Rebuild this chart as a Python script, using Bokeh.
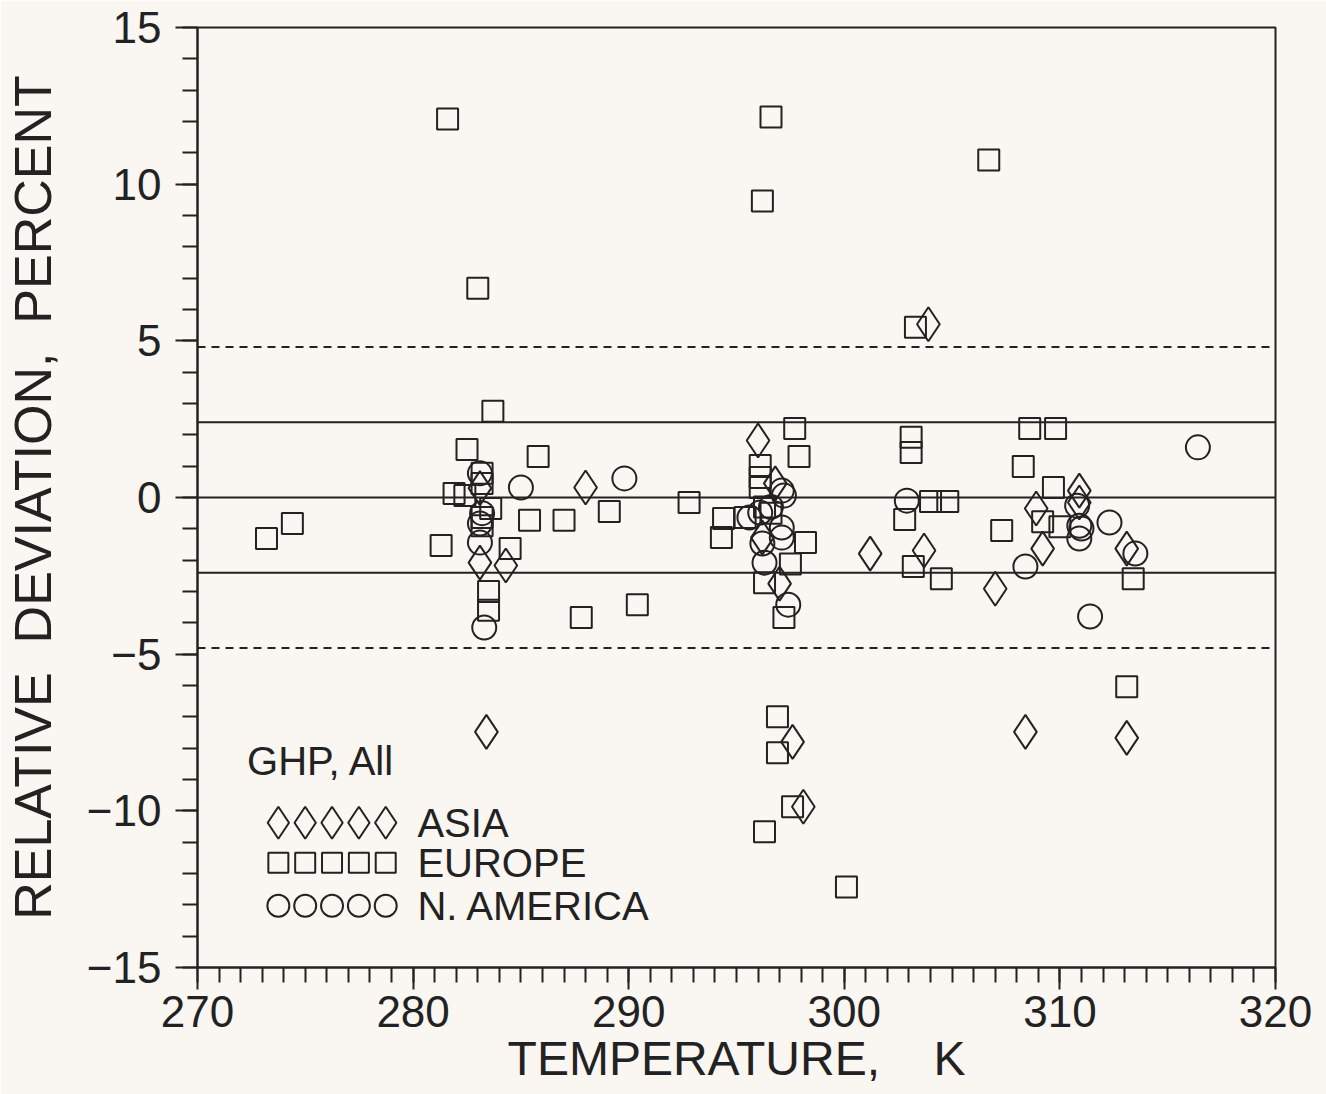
from bokeh.plotting import figure
from bokeh.models import Span, Label, SingleIntervalTicker, Range1d
from bokeh.embed import file_html
from bokeh.resources import INLINE

# ---- data ----
asia_x = [303.9, 296.0, 288.0, 283.1, 284.3, 283.4, 301.2, 296.8, 296.2, 297.0, 297.6,
          298.1, 303.7, 307.0, 308.9, 309.2, 310.9, 310.9, 313.1, 308.4, 313.1, 283.1]
asia_y = [5.53, 1.82, 0.32, -2.08, -2.17, -7.48, -1.79, 0.45, -1.28, -2.75, -7.8,
          -9.87, -1.69, -2.91, -0.35, -1.63, 0.22, -0.16, -1.63, -7.48, -7.67, 0.3]

europe_x = [281.6, 283.0, 296.6, 296.2, 306.7, 303.3, 273.2, 274.4, 281.3, 283.7, 282.5,
            281.9, 282.4, 283.2, 283.2, 283.6, 283.2, 283.2, 285.8, 285.4, 287.0, 289.1,
            284.5, 283.5, 283.5, 287.8, 290.4, 292.8, 294.4, 294.3, 297.7, 297.9, 296.1,
            296.1, 296.1, 295.4, 298.2, 297.5, 296.3, 297.2, 296.9, 296.9, 296.3, 297.6,
            300.1, 303.1, 303.1, 302.8, 303.2, 304.0, 304.8, 304.5, 307.3, 308.3, 308.6,
            309.8, 309.7, 309.2, 310.0, 313.1, 313.4, 296.3, 296.6]
europe_y = [12.08, 6.68, 12.14, 9.46, 10.77, 5.43, -1.31, -0.83, -1.53, 2.75, 1.53,
            0.13, 0.06, 0.77, 0.45, -0.35, -0.64, -0.9, 1.31, -0.73, -0.73, -0.45,
            -1.63, -3.0, -3.6, -3.83, -3.42, -0.16, -0.67, -1.28, 2.2, 1.31, 1.02,
            0.64, 0.32, -0.64, -1.44, -2.12, -2.72, -3.83, -7.0, -8.15, -10.67, -9.87,
            -12.43, 1.92, 1.44, -0.70, -2.2, -0.13, -0.13, -2.59, -1.05, 0.99, 2.2,
            2.2, 0.32, -0.77, -0.93, -6.04, -2.59, -0.3, -0.5]

namerica_x = [285.0, 289.8, 283.1, 283.3, 283.1, 283.2, 283.1, 297.1, 297.2, 295.6, 297.1,
              297.1, 296.2, 296.3, 297.4, 296.1, 296.6, 302.9, 310.8, 310.9, 310.9, 311.0,
              312.3, 308.4, 313.5, 311.4, 316.4]
namerica_y = [0.32, 0.61, -1.44, -4.15, 0.77, -0.5, -0.83, 0.22, 0.06, -0.64, -0.96,
              -1.28, -1.47, -2.08, -3.42, -0.48, -0.3, -0.10, -0.26, -0.9, -1.31, -0.99,
              -0.8, -2.2, -1.79, -3.80, 1.6]

solid_lines = [0.0, 2.4, -2.4]
dashed_lines = [4.8, -4.8]

legend_title = "GHP,  All"
legend_labels = ["ASIA", "EUROPE", "N.  AMERICA"]

INK = "#222222"
BG = "#faf6f1"
FONT = "Liberation Sans"

p = figure(frame_width=1078, frame_height=940,
           min_border_left=195, min_border_right=53, min_border_top=27, min_border_bottom=127,
           x_range=Range1d(270, 320), y_range=Range1d(-15, 15),
           output_backend="svg", toolbar_location=None,
           background_fill_color=BG, border_fill_color=BG)
p.grid.visible = False
p.outline_line_color = INK
p.outline_line_width = 2

# axes
xa = p.xaxis[0]
xa.ticker = SingleIntervalTicker(interval=10, num_minor_ticks=10)
ya = p.yaxis[0]
ya.ticker = SingleIntervalTicker(interval=5, num_minor_ticks=5)
ya.major_label_overrides = {-15: "\u221215", -10: "\u221210", -5: "\u22125"}
for ax in (xa, ya):
    ax.axis_line_color = INK
    ax.axis_line_width = 2
    ax.major_tick_line_color = INK
    ax.minor_tick_line_color = INK
    ax.major_tick_line_width = 2
    ax.minor_tick_line_width = 2
    ax.major_tick_in = 0
    ax.minor_tick_in = 0
    ax.major_tick_out = 22
    ax.minor_tick_out = 15
    ax.major_label_text_font = FONT
    ax.major_label_text_font_size = "44px"
    ax.major_label_text_color = INK
    ax.axis_label_text_font = FONT
    ax.axis_label_text_font_style = "normal"
    ax.axis_label_text_color = INK
xa.major_label_standoff = 6
ya.major_label_standoff = 14
xa.axis_label = "TEMPERATURE,\u00a0\u00a0\u00a0\u00a0K"
xa.axis_label_text_font_size = "48px"
xa.axis_label_standoff = 2
ya.axis_label = "RELATIVE\u00a0\u00a0DEVIATION,\u00a0\u00a0PERCENT"
ya.axis_label_text_font_size = "52px"
ya.axis_label_standoff = 22

# reference lines
for v in solid_lines:
    p.add_layout(Span(location=v, dimension="width", line_color=INK, line_width=2))
for v in dashed_lines:
    p.add_layout(Span(location=v, dimension="width", line_color=INK, line_width=2,
                      line_dash="8 6"))

# data
p.scatter(asia_x, asia_y, marker="diamond", size=34, fill_color=None,
          line_color=INK, line_width=2)
p.scatter(europe_x, europe_y, marker="square", size=21, fill_color=None,
          line_color=INK, line_width=2)
p.scatter(namerica_x, namerica_y, marker="circle", size=24, fill_color=None,
          line_color=INK, line_width=2)

# in-plot legend
leg_x0 = 273.75
leg_dx = 1.245
leg_rows = [-10.38, -11.66, -13.03]
markers = [("diamond", 32), ("square", 20), ("circle", 22)]
for (m, s), ry, lab in zip(markers, leg_rows, legend_labels):
    p.scatter([leg_x0 + i * leg_dx for i in range(5)], [ry] * 5, marker=m, size=s,
              fill_color=None, line_color=INK, line_width=2)
    p.add_layout(Label(x=280.2, y=ry, text=lab, text_font=FONT, text_font_size="40px",
                       text_color=INK, text_baseline="middle", text_align="left"))
p.add_layout(Label(x=272.3, y=-8.4, text=legend_title, text_font=FONT,
                   text_font_size="40px", text_color=INK, text_baseline="middle",
                   text_align="left"))

open("out.html", "w").write(file_html(p, INLINE))
